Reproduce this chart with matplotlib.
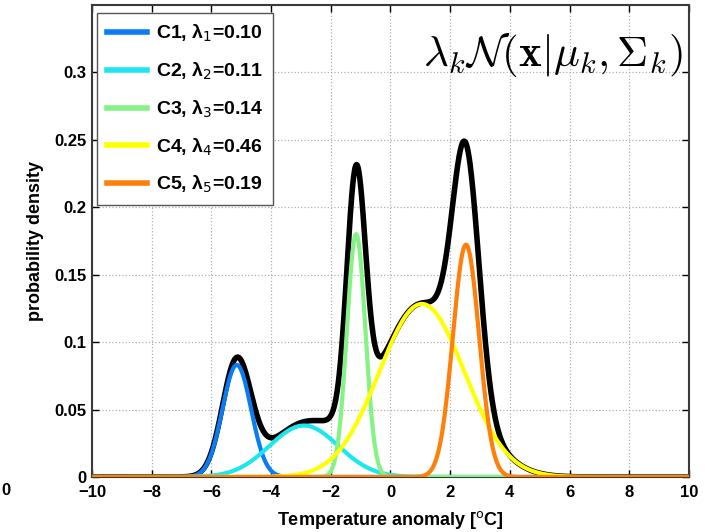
import numpy as np
import matplotlib
matplotlib.use('Agg')
import matplotlib.pyplot as plt

# mixture components: weight, mean, std dev
labels = ['C1', 'C2', 'C3', 'C4', 'C5']
weights = [0.10, 0.11, 0.14, 0.46, 0.19]
means = [-5.15, -2.9, -1.15, 1.05, 2.53]
sigmas = [0.48, 1.15, 0.31, 1.43, 0.44]
colors = ['#0a7cf5', '#1ee6f0', '#86f286', '#ffff00', '#ff7f0a']

xticks = list(range(-10, 11, 2))
yticks = [0, 0.05, 0.1, 0.15, 0.2, 0.25, 0.3]
ytick_labels = ['0', '0.05', '0.1', '0.15', '0.2', '0.25', '0.3']

plt.rcParams['font.family'] = ['Liberation Sans', 'DejaVu Sans']

x = np.linspace(-10, 10, 1201)


def gauss(x, w, m, s):
    return w / (s * np.sqrt(2 * np.pi)) * np.exp(-0.5 * ((x - m) / s) ** 2)


comps = [gauss(x, w, m, s) for w, m, s in zip(weights, means, sigmas)]
total = np.sum(comps, axis=0)

fig = plt.figure(figsize=(7.11, 5.32), dpi=100)
ax = fig.add_axes([0.1294, 0.1034, 0.8396, 0.8872])

ax.plot(x, total, color='black', lw=4.0, zorder=3)
for i, (y, c) in enumerate(zip(comps, colors)):
    lab = '%s, λ$_{%d}$=%.2f' % (labels[i], i + 1, weights[i])
    ax.plot(x, y, color=c, lw=3.0, label=lab, zorder=4 + i)

ax.set_xlim(-10, 10)
ax.set_ylim(0, 0.35)
ax.set_xticks(xticks)
ax.set_yticks(yticks)
ax.set_yticklabels(ytick_labels)
ax.tick_params(direction='in', length=5, width=1, labelsize=12, top=True, right=True, pad=4)
ax.tick_params(axis='x', pad=6)
for t in ax.get_xticklabels() + ax.get_yticklabels():
    t.set_fontweight('bold')
ax.grid(True, ls=':', color='#b0b0b0', lw=0.9)
for sp in ax.spines.values():
    sp.set_color('#3a3a3a')
    sp.set_linewidth(1.5)

ax.set_xlabel(r'Temperature anomaly [$^{\rm o}$C]', fontsize=13, fontweight='bold', labelpad=6)
ax.set_ylabel('probability density', fontsize=13, fontweight='bold', labelpad=7)

leg = ax.legend(loc='upper left', prop={'weight': 'bold', 'size': 14},
                handlelength=2.1, labelspacing=0.85, borderpad=0.5, handletextpad=0.45,
                borderaxespad=0, fancybox=False, framealpha=1, edgecolor='#555555',
                bbox_to_anchor=(0.008, 0.983))
for h in leg.get_lines():
    h.set_linewidth(4)
leg.get_frame().set_linewidth(1.0)

ax.text(0.99, 0.895, r'$\lambda_k\mathcal{N}(\mathbf{x}|\mu_k,\Sigma_k)$',
        transform=ax.transAxes, ha='right', va='center', fontsize=31,
        math_fontfamily='cm', zorder=10)

# stray tick label from a neighbouring panel at the left edge
fig.text(0.002, 0.078, '0', fontsize=12, fontweight='bold', ha='left', va='center')

fig.savefig('out.png', dpi=100)
